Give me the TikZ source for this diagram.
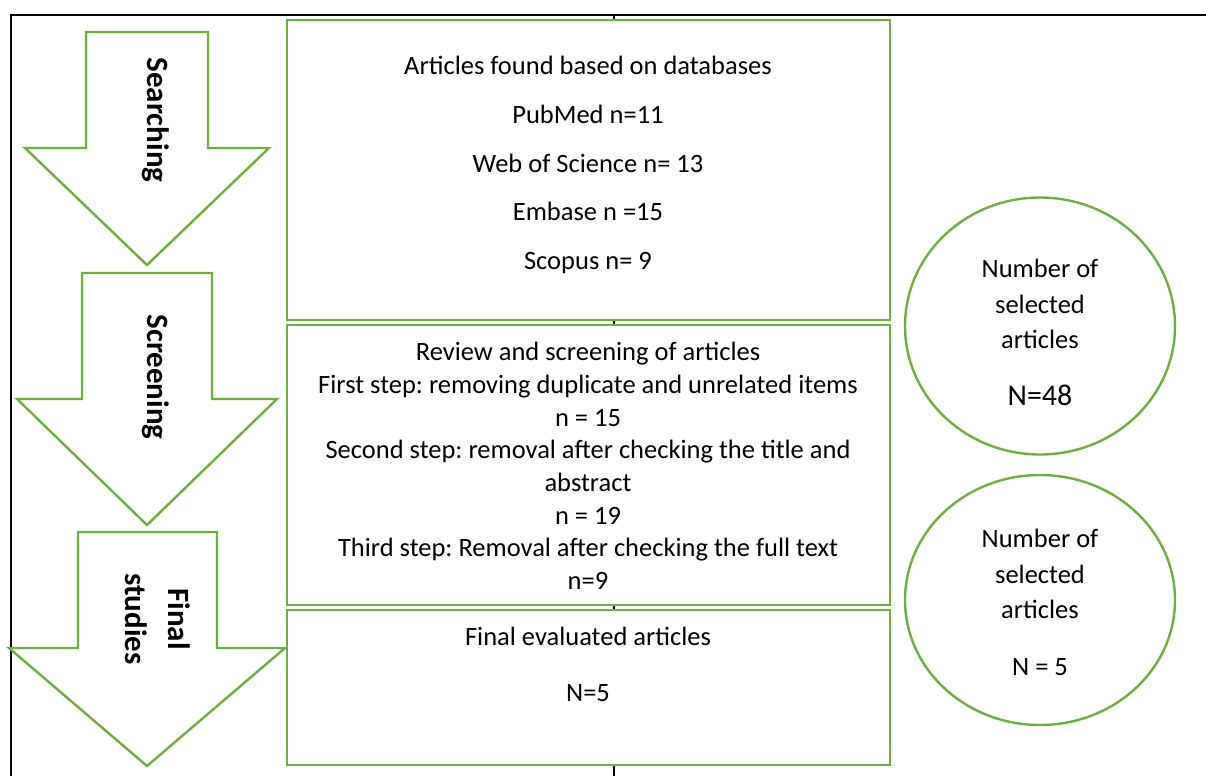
\documentclass[tikz,border=0pt]{standalone}
\usepackage{fontspec}
\setmainfont{Carlito}
\usepackage{tikz}
\usetikzlibrary{shapes.geometric}
\frenchspacing

\definecolor{stagegreen}{HTML}{70AD47}

\tikzset{
  frame/.style={line width=2pt, draw=black},
  stage/.style={draw=stagegreen, line width=2.4pt, fill=white},
  panel/.style={draw=stagegreen, line width=2.4pt, fill=white, minimum width=603pt, inner sep=0pt},
  tally/.style={draw=stagegreen, line width=2.4pt, fill=white, ellipse, minimum width=270pt, inner sep=0pt},
  body/.style={align=center, font=\fontsize{26.5}{32.7}\selectfont},
  tag/.style={align=center, rotate=-90, font=\fontsize{31}{43}\selectfont\bfseries}
}

\begin{document}
\begin{tikzpicture}[x=1pt, y=-1pt]
\useasboundingbox (0,0) rectangle (1206,776);

%% frame
\draw[frame] (1206,15) -- (11,15) -- (11,776);
\draw[frame] (614,15) -- (614,776);

%% stage arrows
\draw[stage] (86,32) -- (208,32) -- (208,148) -- (269,148) -- (147,265) -- (25,148) -- (86,148) -- cycle;
\draw[stage] (82,273) -- (212,273) -- (212,399) -- (277,399) -- (147,525) -- (17,399) -- (82,399) -- cycle;
\draw[stage] (78,532) -- (217,532) -- (217,648) -- (285,648) -- (147,766) -- (9,648) -- (78,648) -- cycle;
\node[tag] (searching) at (156,120) {Searching};
\node[tag] (screening) at (156,377) {Screening};
\node[tag] (final) at (158,619) {Final\\studies};

%% boxes
\node[panel, minimum height=300pt] (found) at (588.5,170) {};
\node[panel, minimum height=280pt] (review) at (588.5,465) {};
\node[panel, minimum height=155pt] (evaluated) at (588.5,687.5) {};

\node[body, font=\fontsize{26.5}{48.7}\selectfont] (foundtxt) at (588,165)
  {Articles found based on databases\\PubMed n=11\\Web of Science n= 13\\Embase n =15\\Scopus n= 9};
\node[body] (reviewtxt) at (588,466)
  {Review and screening of articles\\First step: removing duplicate and unrelated items\\n = 15\\Second step: removal after checking the title and\\abstract\\n = 19\\Third step: Removal after checking the full text\\n=9};
\node[body] (evaluatedtxt) at (588,664.5) {Final evaluated articles\\[23.3pt]N=5};

%% selected counts
\node[tally, minimum height=257pt] (selA) at (1040,326) {};
\node[tally, minimum height=250pt] (selB) at (1040,600) {};
\node[body, font=\fontsize{26.5}{35.5}\selectfont] (selAtxt) at (1040,332.5)
  {Number of\\selected\\articles\\[21.5pt]{\fontsize{30}{35}\selectfont N=48}};
\node[body, font=\fontsize{26.5}{35.5}\selectfont] (selBtxt) at (1040,602.5)
  {Number of\\selected\\articles\\[21.5pt]N = 5};

\end{tikzpicture}
\end{document}
